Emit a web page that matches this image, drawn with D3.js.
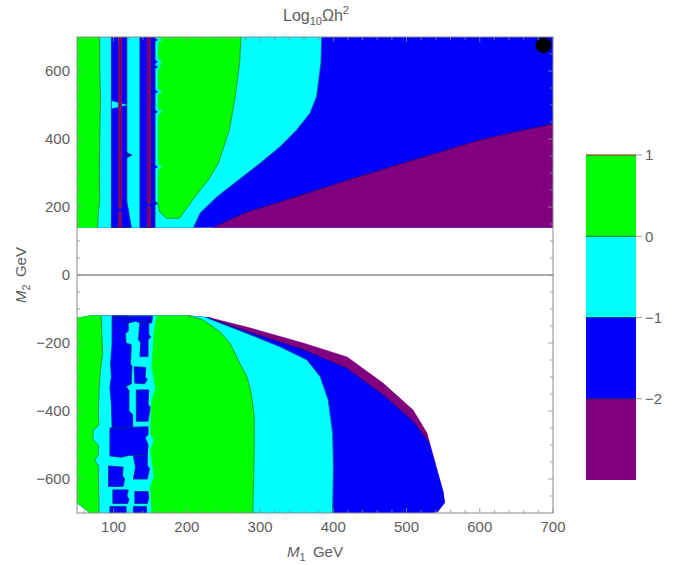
<!DOCTYPE html>
<html>
<head>
<meta charset="utf-8">
<script src="https://cdn.jsdelivr.net/npm/d3@7/dist/d3.min.js"></script>
<style>
  body { margin: 0; background: #fff; }
  svg { display: block; }
  text { font-family: "Liberation Sans", Arial, Helvetica, sans-serif; }
</style>
</head>
<body>
<svg id="chart" width="686" height="565"></svg>
<script>
// ---- Axes and legend ----
const xDomain = [50, 700];
const yDomain = [-700, 700];
const xTicks = [100, 200, 300, 400, 500, 600, 700];
const yTicks = [-600, -400, -200, 0, 200, 400, 600];
const barLevels = [1, 0, -1, -2];            // labelled contour levels
const barEdges = [1, 0, -1, -2, -3];          // band edges of the legend bar
const bandColors = ["#00ff00", "#00ffff", "#0000ff", "#800080"];
const levelLineColors = ["#8b1c2c", "#0b6b0b", "#0a4a6a", "#1a1a6a"];

// ---- Upper branch, M2 > 0 (points are [M1, M2] in GeV) ----
const topBase = [[50, 140], [700, 140], [700, 700], [50, 700]];
const topBluePurpleEdge = [[236, 140], [282, 185], [327, 215], [419, 279], [509, 338], [600, 397], [659, 426], [700, 444]];
const topCyanBlueEdge = [[384, 700], [383, 623], [377, 524], [368, 476], [350, 427], [327, 377], [300, 329], [270, 279], [241, 230], [218, 182], [209, 140]];
const topGreenCyanEdge = [[274, 700], [272, 623], [266, 524], [258, 427], [243, 329], [229, 279], [211, 230], [195, 182], [190, 167], [172, 167], [163, 186], [160, 211]];
const topGreenLeftEdge = [[160, 211], [161, 220], [161, 310], [166, 318], [161, 326], [161, 472], [167, 480], [161, 488], [161, 531], [166, 539], [161, 547], [161, 605], [166, 612], [162, 618], [166, 627], [161, 635], [161, 684], [167, 691], [161, 698], [161, 700]];
const topGreenBand = [[50, 700], [81, 700], [81, 600], [82, 520], [81, 400], [80.5, 300], [81, 220], [79, 180], [78, 140], [50, 140]];
const topBlueColumns = [
  [[97, 700], [118, 700], [118, 346], [125, 352], [118, 360], [118, 215], [121, 180], [124, 140], [97, 140]],
  [[136, 700], [156.5, 700], [156.5, 695], [160, 691], [156.5, 688], [156.5, 631], [160, 627], [156.5, 623], [156.5, 616], [160, 612], [156.5, 608], [156.5, 543], [160, 539], [156.5, 535], [156.5, 484], [160, 480], [156.5, 476], [156.5, 322], [160, 318], [156.5, 314], [156.5, 215], [160, 211], [156.5, 207], [156.5, 140], [136, 140]]
];
const topCyanWedges = [[[97, 512], [118, 500], [97, 490]]];
const topStripes = [
  [[106.5, 700], [111, 700], [111, 196], [106.5, 196]],
  [[106.5, 186], [111, 186], [111, 140], [106.5, 140]],
  [[146, 700], [150.6, 700], [150.6, 210], [146, 210]],
  [[146, 201], [150.6, 201], [150.6, 140], [146, 140]]
];

// ---- Lower branch, M2 < 0 ----
const botOuter = [[50, -127], [68, -120], [202, -120], [232, -126], [282, -153], [359, -200], [419, -241], [468, -318], [509, -397], [528, -465], [550, -638], [552, -670], [542, -697], [528, -700], [68, -700], [50, -670]];
const botPurpleInnerEdge = [[232, -128], [282, -166], [359, -220], [418, -274], [468, -353], [509, -431], [531, -495]];
const botOuterLower = [[550, -638], [552, -670], [542, -697], [528, -700], [68, -700], [50, -670]];
const botCyanBlueEdge = [[225, -124], [282, -172], [327, -211], [364, -250], [382, -299], [393, -368], [399, -466], [400, -564], [399, -700]];
const botGreenCyanEdge = [[202, -120], [222, -132], [245, -167], [259, -201], [270, -250], [282, -299], [288, -348], [292, -417], [292, -515], [291, -613], [290, -700]];
const botGreenLeftEdge = [[152, -700], [150, -623], [155, -593], [150, -515], [155, -486], [150, -466], [152, -368], [157, -335], [152, -270], [155, -170], [159, -120]];
const botGreenBand = [[50, -127], [68, -120], [83, -120], [84, -180], [85, -230], [82, -280], [80, -340], [79, -400], [80, -440], [72, -458], [72, -485], [79, -500], [79, -530], [74, -545], [79, -560], [80, -700], [68, -700], [50, -670]];
const botBluePatches = [
  [[98, -121], [120, -121], [120, -165], [116, -172], [117, -200], [124, -205], [123, -262], [125, -268], [124, -320], [117, -328], [121, -340], [121, -400], [126, -410], [126, -450], [98, -450], [97, -380], [95, -330], [97, -300], [96, -260], [98, -200]],
  [[98, -121], [153, -121], [152, -141], [137, -141], [130, -136], [120, -141], [110, -138]],
  [[136, -135], [148, -135], [148, -175], [151, -182], [147, -190], [147, -240], [136, -240], [137, -200], [134, -190]],
  [[128, -270], [144, -272], [143, -300], [146, -308], [142, -320], [129, -318]],
  [[131, -338], [148, -338], [147, -380], [150, -390], [147, -430], [131, -430]],
  [[95, -450], [147, -446], [147, -470], [143, -478], [147, -500], [146, -532], [122, -530], [110, -536], [95, -532]],
  [[127, -532], [146, -532], [146, -560], [149, -570], [146, -600], [127, -600], [130, -565]],
  [[93, -562], [113, -565], [112, -590], [115, -600], [113, -622], [93, -622]],
  [[99, -632], [120, -632], [118, -650], [121, -660], [119, -672], [99, -672]],
  [[129, -637], [147, -637], [148, -655], [146, -672], [129, -672]],
  [[95, -681], [117, -681], [117, -700], [95, -700]],
  [[127, -681], [145, -681], [145, -700], [127, -700]]
];

// Reference point marker
const marker = [687, 676];

// ---- Scales ----
const svg = d3.select("#chart");
const x = d3.scaleLinear().domain(xDomain).range([77, 553]);
const y = d3.scaleLinear().domain(yDomain).range([513, 37]);
const line = d3.line().x(d => x(d[0])).y(d => y(d[1]));
const closed = pts => line(pts) + "Z";

const GREEN = bandColors[0], CYAN = bandColors[1], BLUE = bandColors[2], PURPLE = bandColors[3];

svg.append("defs").append("clipPath").attr("id", "plotClip")
  .append("rect")
  .attr("x", x(xDomain[0])).attr("y", y(yDomain[1]))
  .attr("width", x(xDomain[1]) - x(xDomain[0]))
  .attr("height", y(yDomain[0]) - y(yDomain[1]));

const plot = svg.append("g").attr("clip-path", "url(#plotClip)");

function area(pts, color) {
  plot.append("path").attr("d", closed(pts)).attr("fill", color)
    .attr("stroke", color).attr("stroke-width", 0.4);
}
function edge(pts, color) {
  plot.append("path").attr("d", line(pts)).attr("fill", "none")
    .attr("stroke", color).attr("stroke-width", 0.8).attr("stroke-opacity", 0.75);
}

// Upper branch
area(topBase, BLUE);
area([...topBluePurpleEdge, [700, 140]], PURPLE);
area([[50, 700], ...topCyanBlueEdge, [50, 140]], CYAN);
area([...topGreenLeftEdge, ...topGreenCyanEdge], GREEN);
area(topGreenBand, GREEN);
topBlueColumns.forEach(c => area(c, BLUE));
topCyanWedges.forEach(c => area(c, CYAN));
topStripes.forEach(s => plot.append("path").attr("d", closed(s))
  .attr("fill", "#800070").attr("stroke", "#a3143c").attr("stroke-width", 0.6));
edge(topBluePurpleEdge, "#1a0a50");
edge(topCyanBlueEdge, "#0a3a5a");
edge(topGreenCyanEdge, "#1a5a1a");
edge(topGreenBand.slice(1, 9), "#1a5a1a");
topBlueColumns.forEach(c => edge([...c, c[0]], "#0a2a6a"));

// Lower branch
area(botOuter, PURPLE);
area([[50, -127], [68, -120], [202, -120], [232, -126], ...botPurpleInnerEdge, ...botOuterLower], BLUE);
area([[50, -127], [68, -120], [202, -120], ...botCyanBlueEdge, [68, -700], [50, -670]], CYAN);
area([...botGreenLeftEdge, ...botGreenCyanEdge], GREEN);
area(botGreenBand, GREEN);
botBluePatches.forEach(p => area(p, BLUE));
edge(botPurpleInnerEdge, "#1a0a50");
edge(botCyanBlueEdge, "#0a3a5a");
edge(botGreenCyanEdge, "#1a5a1a");
edge(botGreenBand.slice(2, 16), "#1a5a1a");
botBluePatches.forEach(p => edge([...p, p[0]], "#0a2a6a"));

// Marker
plot.append("circle").attr("cx", x(marker[0])).attr("cy", y(marker[1])).attr("r", 8).attr("fill", "#000");

// Zero line
svg.append("line").attr("x1", x(50)).attr("x2", x(700)).attr("y1", y(0)).attr("y2", y(0))
  .attr("stroke", "#555").attr("stroke-width", 1);

// ---- Frame and ticks ----
const AX = "#8a8a8a", TXT = "#5e5e5e";
svg.append("rect").attr("x", x(50)).attr("y", y(700))
  .attr("width", x(700) - x(50)).attr("height", y(-700) - y(700))
  .attr("fill", "none").attr("stroke", AX).attr("stroke-width", 1);

const xMinor = d3.range(60, 701, 20).filter(v => v % 100 !== 0);
const yMinor = d3.range(-650, 651, 50).filter(v => v % 200 !== 0);
const tg = svg.append("g").attr("stroke", AX).attr("stroke-width", 0.8);
[[xTicks, 5], [xMinor, 3]].forEach(([vals, len]) => vals.forEach(v => {
  tg.append("line").attr("x1", x(v)).attr("x2", x(v)).attr("y1", y(-700)).attr("y2", y(-700) - len);
  tg.append("line").attr("x1", x(v)).attr("x2", x(v)).attr("y1", y(700)).attr("y2", y(700) + len);
}));
[[yTicks, 5], [yMinor, 3]].forEach(([vals, len]) => vals.forEach(v => {
  tg.append("line").attr("y1", y(v)).attr("y2", y(v)).attr("x1", x(50)).attr("x2", x(50) + len);
  tg.append("line").attr("y1", y(v)).attr("y2", y(v)).attr("x1", x(700)).attr("x2", x(700) - len);
}));

const fmt = v => (v < 0 ? "\u2212" + Math.abs(v) : String(v));
svg.append("g").selectAll("text").data(xTicks).join("text")
  .attr("x", d => x(d)).attr("y", 532).attr("text-anchor", "middle")
  .attr("font-size", 15).attr("fill", TXT).text(fmt);
svg.append("g").selectAll("text").data(yTicks).join("text")
  .attr("x", 70).attr("y", d => y(d)).attr("dy", "0.35em").attr("text-anchor", "end")
  .attr("font-size", 15).attr("fill", TXT).text(fmt);

// Axis titles
const xt = svg.append("text").attr("x", 315).attr("y", 557).attr("text-anchor", "middle")
  .attr("font-size", 15).attr("fill", TXT);
xt.append("tspan").attr("font-style", "italic").text("M");
xt.append("tspan").attr("font-size", 11).attr("dy", 4).text("1");
xt.append("tspan").attr("dy", -4).text("\u2009 GeV");

const yt = svg.append("text").attr("transform", "translate(26,275) rotate(-90)")
  .attr("text-anchor", "middle").attr("font-size", 15).attr("fill", TXT);
yt.append("tspan").attr("font-style", "italic").text("M");
yt.append("tspan").attr("font-size", 11).attr("dy", 4).text("2");
yt.append("tspan").attr("dy", -4).text("\u2009 GeV");

// Title
const tt = svg.append("text").attr("x", 316).attr("y", 21).attr("text-anchor", "middle")
  .attr("font-size", 16).attr("fill", TXT);
tt.append("tspan").text("Log");
tt.append("tspan").attr("font-size", 11).attr("dy", 4).text("10");
tt.append("tspan").attr("dy", -4).text("\u03A9h");
tt.append("tspan").attr("font-size", 11).attr("dy", -7).text("2");

// ---- Legend bar ----
const yb = d3.scaleLinear().domain([-3, 1]).range([480, 155]);
const bar = svg.append("g");
bandColors.forEach((c, i) => {
  bar.append("rect").attr("x", 586).attr("width", 50)
    .attr("y", yb(barEdges[i])).attr("height", yb(barEdges[i + 1]) - yb(barEdges[i]))
    .attr("fill", c);
});
barLevels.forEach((v, i) => {
  bar.append("line").attr("x1", 586).attr("x2", 636).attr("y1", yb(v)).attr("y2", yb(v))
    .attr("stroke", levelLineColors[i]).attr("stroke-width", 1);
  bar.append("line").attr("x1", 636).attr("x2", 642).attr("y1", yb(v)).attr("y2", yb(v))
    .attr("stroke", AX).attr("stroke-width", 0.8);
  bar.append("text").attr("x", 645).attr("y", yb(v)).attr("dy", "0.35em")
    .attr("font-size", 15).attr("fill", TXT).text(fmt(v));
});
</script>
</body>
</html>
